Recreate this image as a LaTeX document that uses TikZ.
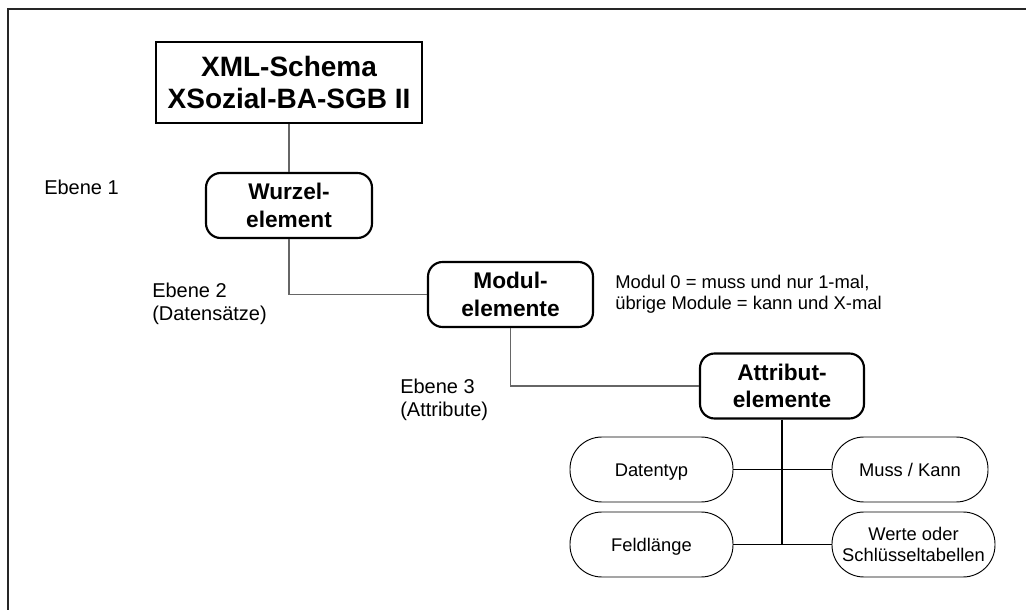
\documentclass[tikz,border=0pt]{standalone}
\usepackage{fontspec}
\setmainfont{Liberation Sans}
\begin{document}
\begin{tikzpicture}[x=0.75pt,y=-0.75pt,
  frame/.style={line width=1.6pt,draw=black!85},
  topbox/.style={draw,line width=1.6pt,inner sep=0pt,align=center,
    minimum width=199.5pt,minimum height=60.75pt,
    font=\fontsize{21}{24.5}\selectfont\bfseries},
  elbox/.style={draw,line width=1.6pt,rounded corners=11pt,inner sep=0pt,align=center,
    minimum height=48.75pt,font=\fontsize{17}{20.5}\selectfont\bfseries},
  capsule/.style={draw,line width=0.7pt,rounded corners=24pt,inner sep=0pt,
    minimum height=48.75pt,font=\fontsize{13.75}{15.5}\selectfont},
  oneline/.style={text height=9.85pt,text depth=0pt},
  lbl/.style={anchor=west,inner sep=0pt,align=left,font=\fontsize{15}{17.25}\selectfont},
  note/.style={anchor=west,inner sep=0pt,align=left,font=\fontsize{13.8}{15.4}\selectfont},
  upline/.style={draw=black!60,line width=0.8pt},
  attline/.style={draw=black,line width=0.8pt}]
\useasboundingbox (0,0) rectangle (1026,610);
\draw[frame] (8,612) -- (8,9) -- (1028,9);

\node[topbox] (xml) at (289,82.5) {XML-Schema\\XSozial-BA-SGB II};
\node[elbox,minimum width=124.5pt] (wurzel) at (289,205.5) {Wurzel-\\element};
\node[elbox,minimum width=123.75pt] (modul) at (510.5,294.5) {Modul-\\elemente};
\node[elbox,minimum width=123pt] (attr) at (782,386) {Attribut-\\elemente};

\node[capsule,oneline,minimum width=122.25pt] (dat) at (651.5,469.5) {Datentyp};
\node[capsule,oneline,minimum width=122.25pt] (feld) at (651.5,544.5) {Feldlänge};
\node[capsule,oneline,minimum width=117pt] (muss) at (910,469.5) {Muss / Kann};
\node[capsule,align=center,minimum width=122.25pt] (werte) at (913.5,544.5) {Werte oder\\Schlüsseltabellen};

\node[lbl] (e1) at (44,187) {Ebene 1};
\node[lbl] (e2) at (152,303.5) {Ebene 2\\(Datensätze)};
\node[lbl] (e3) at (400,400) {Ebene 3\\(Attribute)};
\node[note] (mn) at (615,294) {Modul 0 = muss und nur 1-mal,\\übrige Module = kann und X-mal};

\draw[upline] (xml.south) -- (wurzel.north);
\draw[upline] (wurzel.south) |- (modul.west);
\draw[upline] (modul.south) |- (attr.west);
\draw[attline] (attr.south) -- (attr.south |- feld.east);
\draw[attline] (dat.east) -- (muss.west);
\draw[attline] (feld.east) -- (werte.west);
\end{tikzpicture}
\end{document}
